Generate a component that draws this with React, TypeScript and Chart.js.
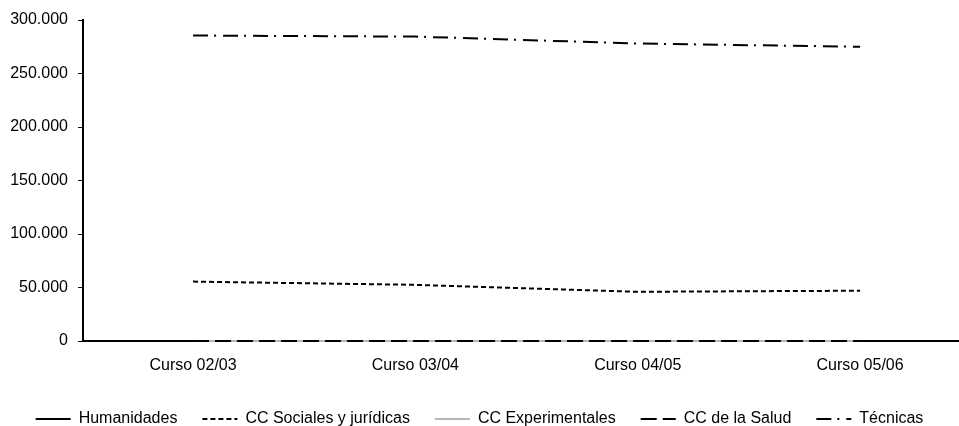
import React, { useEffect, useRef } from "react";
import { Chart, registerables } from "chart.js";

Chart.register(...registerables);

const categories = ["Curso 02/03", "Curso 03/04", "Curso 04/05", "Curso 05/06"];
const humanidades = [0, 0, 0, 0];
const sociales = [55500, 52500, 46000, 47000];
const experimentales = [0, 0, 0, 0];
const salud = [0, 0, 0, 0];
const tecnicas = [285500, 284500, 278000, 275000];
const yTicks = [0, 50000, 100000, 150000, 200000, 250000, 300000];

const FONT = "'Liberation Sans', Arial, sans-serif";

const fmt = (v: number) => String(v).replace(/\B(?=(\d{3})+(?!\d))/g, ".");

const toPoints = (arr: number[]) => arr.map((y, i) => ({ x: i, y }));

export default function App() {
  const ref = useRef<HTMLCanvasElement | null>(null);

  useEffect(() => {
    if (!ref.current) return;
    const common = { pointRadius: 0, borderWidth: 2, tension: 0, fill: false, clip: false };
    const chart = new Chart(ref.current, {
      type: "line",
      data: {
        datasets: [
          { ...common, label: "Humanidades", data: toPoints(humanidades), borderColor: "#000", order: 2 },
          { ...common, label: "CC Sociales y jurídicas", data: toPoints(sociales), borderColor: "#000", borderDash: [5, 3], order: 3 },
          { ...common, label: "CC Experimentales", data: toPoints(experimentales), borderColor: "#b5b5b5", order: 1 },
          { ...common, label: "CC de la Salud", data: toPoints(salud), borderColor: "#000", borderDash: [16, 6], order: 0 },
          { ...common, label: "Técnicas", data: toPoints(tecnicas), borderColor: "#000", borderDash: [15, 6, 2, 7], order: 4 },
        ],
      },
      options: {
        animation: false,
        responsive: false,
        maintainAspectRatio: false,
        layout: { padding: { top: 20, left: 0, right: 0, bottom: 0 } },
        plugins: {
          tooltip: { enabled: false },
          legend: {
            position: "bottom",
            labels: {
              usePointStyle: true,
              pointStyle: "line",
              pointStyleWidth: 35,
              padding: 25,
              color: "#000",
              font: { family: FONT, size: 16 },
              sort: (a: any, b: any) => a.datasetIndex - b.datasetIndex,
              generateLabels: (c: any) => {
                const base = Chart.defaults.plugins.legend.labels.generateLabels(c);
                return base.map((item: any) => {
                  const ds: any = c.data.datasets[item.datasetIndex];
                  return {
                    ...item,
                    pointStyle: "line",
                    strokeStyle: ds.borderColor,
                    fillStyle: ds.borderColor,
                    lineWidth: 2,
                    lineDash: ds.borderDash || [],
                    lineDashOffset: 0,
                  };
                });
              },
            },
          },
        },
        scales: {
          x: {
            type: "linear",
            min: -0.495,
            max: 3.445,
            afterBuildTicks: (scale: any) => {
              scale.ticks = categories.map((_, i) => ({ value: i }));
            },
            afterFit: (scale: any) => {
              scale.height = 45;
            },
            grid: { display: false, drawTicks: false },
            border: { display: true, color: "#000", width: 2 },
            ticks: {
              autoSkip: false,
              maxRotation: 0,
              padding: 15,
              color: "#000",
              font: { family: FONT, size: 16 },
              callback: (v: any) => categories[Math.round(Number(v))] ?? "",
            },
          },
          y: {
            min: 0,
            max: 300000,
            afterBuildTicks: (scale: any) => {
              scale.ticks = yTicks.map((v) => ({ value: v }));
            },
            afterFit: (scale: any) => {
              scale.width = 83;
            },
            grid: { display: true, drawOnChartArea: false, drawTicks: true, tickLength: 5, color: "#000", lineWidth: 1 },
            border: { display: true, color: "#000", width: 2 },
            ticks: {
              padding: 10,
              color: "#000",
              font: { family: FONT, size: 16 },
              callback: (v: any) => fmt(Number(v)),
            },
          },
        },
      },
    });
    return () => chart.destroy();
  }, []);

  return (
    <div style={{ position: "fixed", left: 0, top: 0, width: 959, height: 426, overflow: "hidden", background: "#fff" }}>
      <canvas ref={ref} width={959} height={437} style={{ display: "block" }} />
    </div>
  );
}
